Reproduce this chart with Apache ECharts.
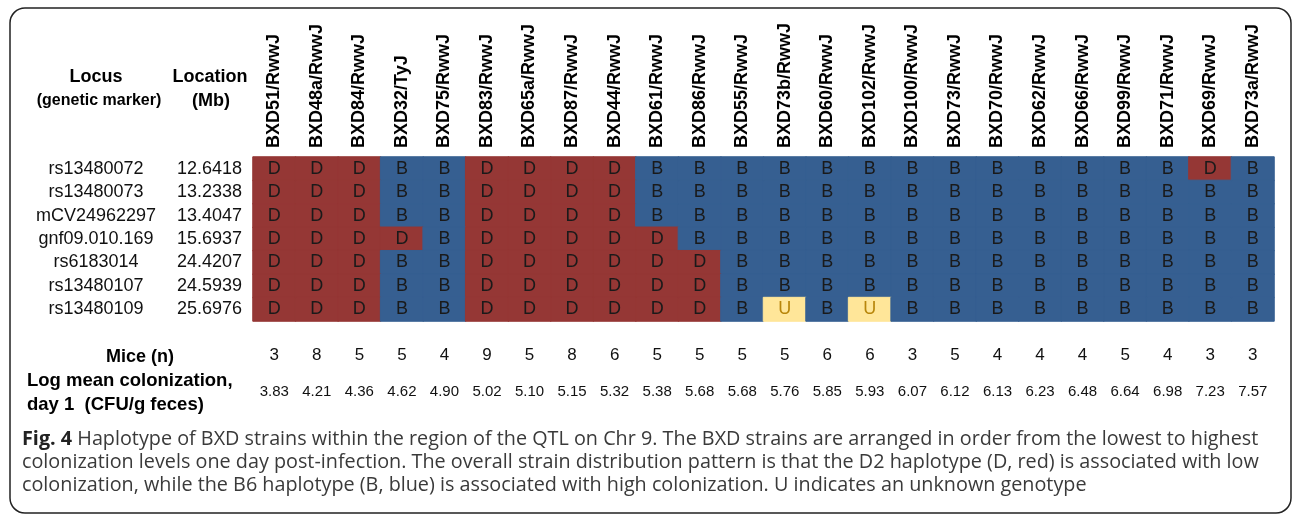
<!DOCTYPE html>
<html>
<head>
<meta charset="utf-8">
<style>html,body{margin:0;padding:0;background:#fff;}#chart{width:1293px;height:514px;}</style>
<script src="https://cdn.jsdelivr.net/npm/echarts@6/dist/echarts.min.js"></script>
</head>
<body>
<div id="chart"></div>
<script>
var strains = ['BXD51/RwwJ','BXD48a/RwwJ','BXD84/RwwJ','BXD32/TyJ','BXD75/RwwJ','BXD83/RwwJ','BXD65a/RwwJ','BXD87/RwwJ','BXD44/RwwJ','BXD61/RwwJ','BXD86/RwwJ','BXD55/RwwJ','BXD73b/RwwJ','BXD60/RwwJ','BXD102/RwwJ','BXD100/RwwJ','BXD73/RwwJ','BXD70/RwwJ','BXD62/RwwJ','BXD66/RwwJ','BXD99/RwwJ','BXD71/RwwJ','BXD69/RwwJ','BXD73a/RwwJ'];
var loci = ['rs13480072','rs13480073','mCV24962297','gnf09.010.169','rs6183014','rs13480107','rs13480109'];
var locations = ['12.6418','13.2338','13.4047','15.6937','24.4207','24.5939','25.6976'];
var genotypes = [
  'DDDBBDDDDBBBBBBBBBBBBBDB',
  'DDDBBDDDDBBBBBBBBBBBBBBB',
  'DDDBBDDDDBBBBBBBBBBBBBBB',
  'DDDDBDDDDDBBBBBBBBBBBBBB',
  'DDDBBDDDDDDBBBBBBBBBBBBB',
  'DDDBBDDDDDDBBBBBBBBBBBBB',
  'DDDBBDDDDDDBUBUBBBBBBBBB'
];
var mice = [3,8,5,5,4,9,5,8,6,5,5,5,5,6,6,3,5,4,4,4,5,4,3,3];
var colonization = ['3.83','4.21','4.36','4.62','4.90','5.02','5.10','5.15','5.32','5.38','5.68','5.68','5.76','5.85','5.93','6.07','6.12','6.13','6.23','6.48','6.64','6.98','7.23','7.57'];

var codes = ['D','B','U'];
var cellColors = ['#953735', '#365F91', '#FFE699'];
var textColors = ['#1a1a1a', '#1a1a1a', '#B8860B'];

var data = [];
genotypes.forEach(function(row, r){
  row.split('').forEach(function(g, c){
    var k = codes.indexOf(g);
    data.push({value:[c, r, k], label:{color:textColors[k]}, itemStyle:{borderColor:cellColors[k], borderWidth:1}});
  });
});

var FONT = 'Liberation Sans';
var chart = echarts.init(document.getElementById('chart'));
var hidden = {axisLine:{show:false}, axisTick:{show:false}, splitLine:{show:false}};
function xAx(pos, extra){
  return Object.assign({type:'category', data:strains, position:pos, gridIndex:0}, hidden, extra);
}
chart.setOption({
  animation:false,
  textStyle:{fontFamily:FONT},
  grid:{left:253, right:19, top:157, bottom:193},
  visualMap:{type:'piecewise', show:false, dimension:2, seriesIndex:0,
    pieces:[{value:0, color:cellColors[0]},{value:1, color:cellColors[1]},{value:2, color:cellColors[2]}]},
  xAxis:[
    xAx('top', {axisLabel:{rotate:-90, margin:9, fontSize:18, fontWeight:'bold', color:'#000', fontFamily:FONT}}),
    xAx('bottom', {axisLabel:{margin:26, fontSize:17, color:'#111', fontFamily:FONT, formatter:function(v,i){return String(mice[i]);}}}),
    xAx('bottom', {axisLabel:{margin:63, fontSize:15, color:'#111', fontFamily:FONT, formatter:function(v,i){return colonization[i];}}})
  ],
  yAxis:[
    Object.assign({type:'category', data:loci, inverse:true, position:'left', axisLabel:{margin:157, align:'center', fontSize:18, color:'#111', fontFamily:FONT}}, hidden),
    Object.assign({type:'category', data:loci, inverse:true, position:'left', axisLabel:{margin:11, fontSize:18, color:'#111', fontFamily:FONT, formatter:function(v,i){return locations[i];}}}, hidden)
  ],
  series:[{
    type:'heatmap', xAxisIndex:0, yAxisIndex:0, data:data,
    label:{show:true, formatter:function(p){return codes[p.value[2]];}, fontSize:18, fontFamily:FONT},
    emphasis:{disabled:true}
  }],
  graphic:[
    {type:'rect', shape:{x:10, y:8, width:1281, height:505, r:15}, style:{fill:'none', stroke:'#222', lineWidth:1.5}, silent:true},
    {type:'text', x:96, y:77, style:{text:'Locus', font:'bold 18px '+FONT, fill:'#000', textAlign:'center', textVerticalAlign:'middle'}},
    {type:'text', x:99, y:101, style:{text:'(genetic marker)', font:'bold 16px '+FONT, fill:'#000', textAlign:'center', textVerticalAlign:'middle'}},
    {type:'text', x:210, y:77, style:{text:'Location', font:'bold 18px '+FONT, fill:'#000', textAlign:'center', textVerticalAlign:'middle'}},
    {type:'text', x:211, y:101, style:{text:'(Mb)', font:'bold 18px '+FONT, fill:'#000', textAlign:'center', textVerticalAlign:'middle'}},
    {type:'text', x:140, y:357, style:{text:'Mice (n)', font:'bold 18px '+FONT, fill:'#000', textAlign:'center', textVerticalAlign:'middle'}},
    {type:'text', x:27, y:381, style:{text:'Log mean colonization,', font:'bold 18.5px '+FONT, fill:'#000', textAlign:'left', textVerticalAlign:'middle'}},
    {type:'text', x:27, y:405, style:{text:'day 1  (CFU/g feces)', font:'bold 18.5px '+FONT, fill:'#000', textAlign:'left', textVerticalAlign:'middle'}},
    {type:'text', x:22, y:439, style:{
      text:'{b|Fig. 4} Haplotype of BXD strains within the region of the QTL on Chr 9. The BXD strains are arranged in order from the lowest to highest',
      font:'19.8px "Open Sans"', fill:'#3a3a3a', textVerticalAlign:'middle',
      rich:{b:{fontWeight:'bold', fontSize:19.8, fontFamily:'Open Sans', fill:'#222'}}}},
    {type:'text', x:22, y:462, style:{text:'colonization levels one day post-infection. The overall strain distribution pattern is that the D2 haplotype (D, red) is associated with low', font:'19.8px "Open Sans"', fill:'#3a3a3a', textVerticalAlign:'middle'}},
    {type:'text', x:22, y:485, style:{text:'colonization, while the B6 haplotype (B, blue) is associated with high colonization. U indicates an unknown genotype', font:'19.8px "Open Sans"', fill:'#3a3a3a', textVerticalAlign:'middle'}}
  ]
});
</script>
</body>
</html>
